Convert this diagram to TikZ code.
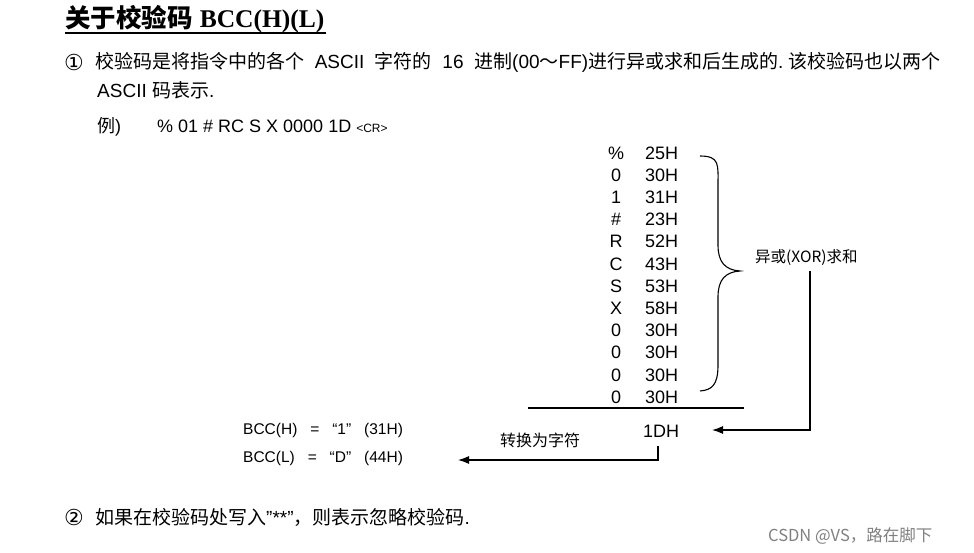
\documentclass[tikz,border=0pt]{standalone}
\usetikzlibrary{arrows.meta}
\usepackage{fontspec}
\setmainfont{Liberation Sans}
\newfontfamily\cjk{Noto Sans CJK SC}
\newfontfamily\ser{Liberation Serif}
\newfontfamily\sym{DejaVu Sans}
\begin{document}
\begin{tikzpicture}[x=1pt,y=-1pt,
  txt/.style={anchor=west,inner sep=0pt,font=\fontsize{19}{22}\selectfont},
  row/.style={inner sep=0pt,font=\fontsize{18}{20}\selectfont},
  sm/.style={anchor=west,inner sep=0pt,font=\fontsize{15.5}{18}\selectfont},
  arr/.style={-{Latex[length=11pt,width=8pt]},line width=1.2pt}]
\useasboundingbox (0,0) rectangle (974,553);
\node[anchor=west,inner sep=0pt,font=\fontsize{25.5}{28}\selectfont\bfseries] (title) at (65,19) {{\cjk 关于校验码} {\ser BCC(H)(L)}};
\draw[line width=1.6pt] (65,33) -- (326,33);
\node[txt] (c1n) at (64,62) {{\sym\fontsize{22}{22}\selectfont ①}};
\node[txt] (l1) at (95,62) {{\cjk 校验码是将指令中的各个}\ \ ASCII\ \ {\cjk 字符的}\ \ 16\ \ {\cjk 进制}(00{\cjk ～}FF){\cjk 进行异或求和后生成的}.\ {\cjk 该校验码也以两个}};
\node[txt] (l2) at (97,90) {ASCII {\cjk 码表示}.};
\node[txt,font=\fontsize{18}{20}\selectfont] (l3) at (97,127) {{\cjk 例})\qquad\% 01 \# RC S X 0000 1D {\fontsize{12}{14}\selectfont <CR>}};
\foreach \s/\h [count=\i from 0] in {\%/25H,0/30H,1/31H,\#/23H,R/52H,C/43H,S/53H,X/58H,0/30H,0/30H,0/30H,0/30H}{
  \node[row] (s\i) at (616,153+22.2*\i) {\s};
  \node[row,anchor=west] (h\i) at (645,153+22.2*\i) {\h};
}
\draw[line width=1.1pt] (700,156) .. controls (720,156) and (718,165) .. (718,185) -- (718,245) .. controls (718,262) and (725,270) .. (740,271) .. controls (725,272) and (718,280) .. (718,297) -- (718,365) .. controls (718,385) and (712,390) .. (700,391);
\node[anchor=west,inner sep=0pt,font=\cjk\fontsize{15.5}{18}\selectfont] (xor) at (755,258) {异或(XOR)求和};
\draw[line width=1.1pt] (528,408) -- (744,408);
\node[row] (r) at (661,431) {1DH};
\coordinate (c1) at (810,271);
\coordinate (c2) at (712,430);
\draw[arr] (c1) -- (810,430) -- (c2);
\node[anchor=west,inner sep=0pt,font=\cjk\fontsize{16}{18}\selectfont] (zh) at (500,440) {转换为字符};
\coordinate (c3) at (458,460);
\draw[arr] (658,446) -- (658,460) -- (c3);
\node[sm] (b1) at (243,430) {BCC(H)\ \ \ =\ \ \ “1”\ \ \ (31H)};
\node[sm] (b2) at (243,458) {BCC(L)\ \ \ =\ \ \ “D”\ \ \ (44H)};
\node[txt] (c2n) at (64,517) {{\sym\fontsize{22}{22}\selectfont ②}};
\node[txt] (l4) at (95,517) {{\cjk 如果在校验码处写入}"**"{\cjk ，则表示忽略校验码}.};
\node[anchor=west,inner sep=0pt,text=gray,font=\cjk\fontsize{16.5}{19}\selectfont] (wm) at (768,536) {CSDN @VS，路在脚下};
\end{tikzpicture}
\end{document}
